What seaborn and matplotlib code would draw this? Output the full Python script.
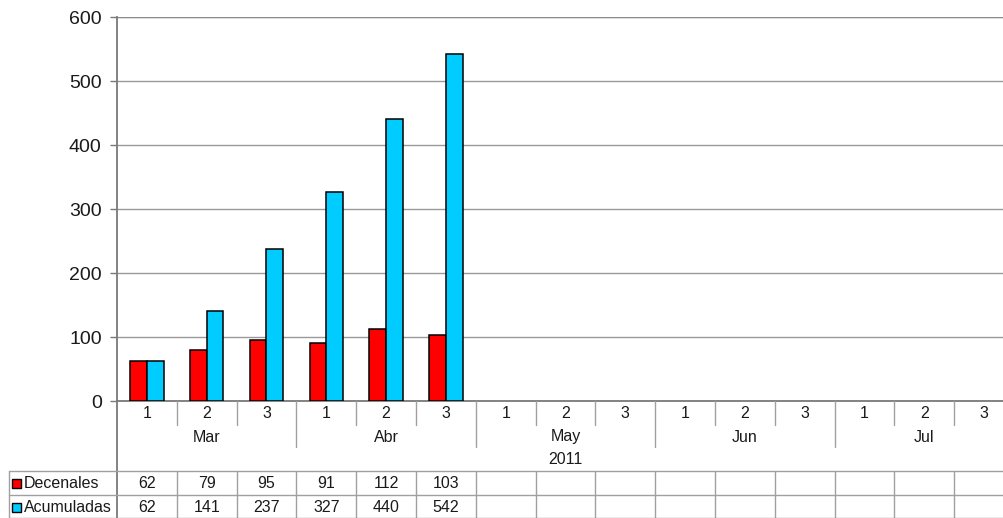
import numpy as np
import pandas as pd
import matplotlib
matplotlib.use("Agg")
import matplotlib.pyplot as plt
import matplotlib.transforms as mtransforms
from matplotlib.patches import Rectangle
import seaborn as sns

# Ten-day periods (decenas) from March to July 2011
months = ["Mar", "Abr", "May", "Jun", "Jul"]
decades = ["1", "2", "3"]
year_label = "2011"
series_names = ["Decenales", "Acumuladas"]
decenales = [62, 79, 95, 91, 112, 103]
acumuladas = [62, 141, 237, 327, 440, 542]
y_ticks = [0, 100, 200, 300, 400, 500, 600]

slots = [f"{m}-{d}" for m in months for d in decades]
n_slots = len(slots)

df = pd.DataFrame({
    "periodo": slots[:len(decenales)] * 2,
    "valor": decenales + acumuladas,
    "serie": [series_names[0]] * len(decenales) + [series_names[1]] * len(acumuladas),
})

colors = ["#ff0000", "#00ccff"]
grid_col = "#9a9a9a"
axis_col = "#7a7a7a"
text_col = "#1a1a1a"

sns.set_theme(style="white")
plt.rcParams["font.family"] = ["Liberation Sans", "DejaVu Sans"]

W, H = 1004, 518
fig = plt.figure(figsize=(W / 100, H / 100), dpi=100)

# axes box in pixel units: x 117..1014, y 17..401 (from top)
ax = fig.add_axes([117 / W, (H - 401) / H, (1014 - 117) / W, (401 - 17) / H])

sns.barplot(data=df, x="periodo", y="valor", hue="serie", order=slots,
            hue_order=series_names, palette=colors, saturation=1,
            edgecolor="black", linewidth=1.1, width=0.56, gap=0,
            legend=False, ax=ax, errorbar=None, zorder=3)

ax.set_xlim(-0.5, n_slots - 0.5)
ax.set_ylim(0, 600)
ax.set_yticks(y_ticks)
ax.set_yticklabels([str(v) for v in y_ticks], fontsize=14, color=text_col)
ax.set_xticks([])
ax.set_xlabel("")
ax.set_ylabel("")
ax.yaxis.grid(True, color=grid_col, linewidth=1.0, zorder=0)
ax.set_axisbelow(True)
ax.tick_params(axis="y", length=5, width=1, color=axis_col, pad=6, left=True)
for side in ["top", "right"]:
    ax.spines[side].set_visible(False)
ax.spines["left"].set_color(axis_col)
ax.spines["left"].set_linewidth(1.3)
ax.spines["bottom"].set_color(axis_col)
ax.spines["bottom"].set_linewidth(1.3)
ax.axhline(600, color="#8a8a8a", linewidth=1.6, zorder=1)

# helpers: x in data units, y in pixels from the top of the figure
tr = mtransforms.blended_transform_factory(ax.transData, fig.transFigure)


def yf(py):
    return 1 - py / H


def fx(px):
    return px / W


line_kw = dict(color="#a0a0a0", linewidth=1.0, clip_on=False)
fs = 11.5

# category labels (decade numbers)
for i, s in enumerate(slots):
    d = s.split("-")[1]
    fig.text(0, 0, d, transform=tr, fontsize=fs, color=text_col,
             ha="center", va="center").set_position((i, yf(413)))

# short separators between decades, long ones between months
for k in range(1, n_slots):
    bottom = 447 if k % 3 == 0 else 425
    fig.add_artist(plt.Line2D([k - 0.5, k - 0.5], [yf(401), yf(bottom)],
                              transform=tr, **line_kw))

# month labels
for j, m in enumerate(months):
    fig.text(0, 0, m, transform=tr, fontsize=fs, color=text_col,
             ha="center", va="center").set_position((3 * j + 1, yf(437)))

# year label centred under all periods
fig.text(0, 0, year_label, transform=tr, fontsize=fs, color=text_col,
         ha="center", va="center").set_position(((n_slots - 1) / 2, yf(459)))

# left axis continues down through the data table
fig.add_artist(plt.Line2D([fx(117), fx(117)], [yf(401), yf(518)],
                          transform=fig.transFigure, color=axis_col,
                          linewidth=1.3))

# data table grid
for py in [471, 495, 518]:
    fig.add_artist(plt.Line2D([fx(9), fx(1004)], [yf(py), yf(py)],
                              transform=fig.transFigure, **line_kw))
fig.add_artist(plt.Line2D([fx(9), fx(9)], [yf(471), yf(518)],
                          transform=fig.transFigure, **line_kw))
for k in range(1, n_slots + 1):
    fig.add_artist(plt.Line2D([k - 0.5, k - 0.5], [yf(471), yf(518)],
                              transform=tr, **line_kw))

# row headers with colour keys and cell values
rows = [(series_names[0], decenales, colors[0], 483),
        (series_names[1], acumuladas, colors[1], 507)]
for name, vals, col, py in rows:
    fig.add_artist(Rectangle((fx(12), yf(py + 4.5)), 9 / W, 9 / H,
                             transform=fig.transFigure, facecolor=col,
                             edgecolor="black", linewidth=1.0))
    fig.text(fx(24), yf(py), name, fontsize=fs, color=text_col,
             ha="left", va="center")
    for i, v in enumerate(vals):
        fig.text(0, 0, str(v), transform=tr, fontsize=fs, color=text_col,
                 ha="center", va="center").set_position((i, yf(py)))

fig.savefig("out.png", dpi=100, facecolor="white")
